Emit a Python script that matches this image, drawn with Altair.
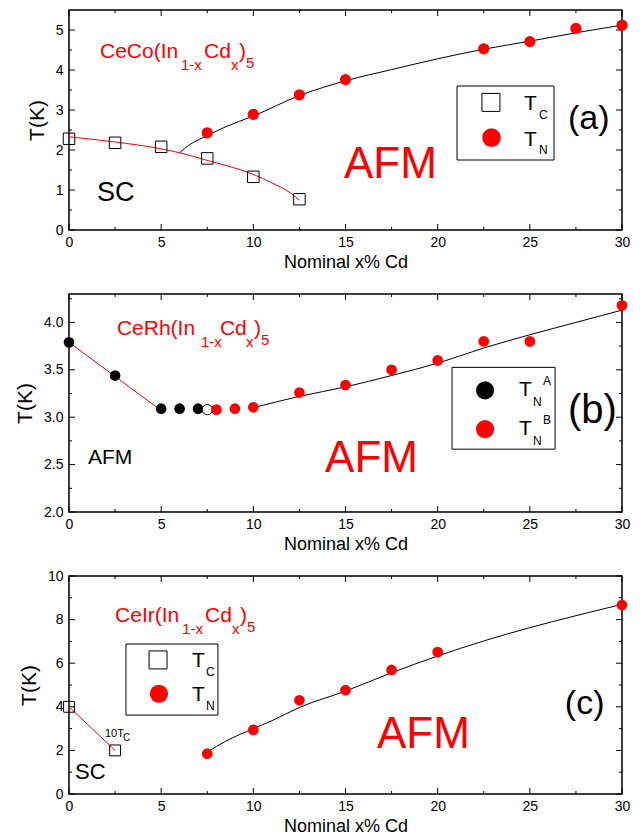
import altair as alt
import pandas as pd

FONT = "Liberation Sans"
RED = "#ff0000"
W = 553
X_MAJOR = [0, 5, 10, 15, 20, 25, 30]
X_MINOR = [2.5, 7.5, 12.5, 17.5, 22.5, 27.5]

# ---------------- panel (a): CeCo(In1-xCdx)5 ----------------
a_tc_x = [0, 2.5, 5, 7.5, 10, 12.5]
a_tc_y = [2.28, 2.18, 2.08, 1.79, 1.33, 0.77]
a_tn_x = [7.5, 10, 12.5, 15, 22.5, 25, 27.5, 30]
a_tn_y = [2.43, 2.89, 3.38, 3.76, 4.53, 4.71, 5.04, 5.12]
a_tcfit_x = [0, 2.5, 5, 6, 7.5, 10, 11, 12, 12.5]
a_tcfit_y = [2.33, 2.20, 2.03, 1.93, 1.74, 1.39, 1.18, 0.93, 0.74]
a_tnfit_x = [6, 6.5, 7, 7.5, 8.5, 10, 12.5, 15, 17.5, 20, 22.5, 25, 27.5, 30]
a_tnfit_y = [1.93, 2.12, 2.25, 2.36, 2.58, 2.85, 3.36, 3.73, 4.01, 4.28, 4.52, 4.72, 4.93, 5.12]
a_y_major = [0, 1, 2, 3, 4, 5]
a_y_minor = [0.5, 1.5, 2.5, 3.5, 4.5]

# ---------------- panel (b): CeRh(In1-xCdx)5 ----------------
b_tna_x = [0, 2.5, 5, 6, 7]
b_tna_y = [3.79, 3.44, 3.09, 3.09, 3.09]
b_open_x = [7.5]
b_open_y = [3.08]
b_tnb_x = [8, 9, 10, 12.5, 15, 17.5, 20, 22.5, 25, 30]
b_tnb_y = [3.08, 3.09, 3.105, 3.26, 3.34, 3.50, 3.60, 3.80, 3.80, 4.18]
b_redfit_x = [0, 4.8]
b_redfit_y = [3.79, 3.10]
b_blackfit_x = [10, 12.5, 15, 17.5, 20, 22.5, 25, 27.5, 30]
b_blackfit_y = [3.10, 3.22, 3.32, 3.44, 3.57, 3.73, 3.87, 4.00, 4.13]
b_y_major = [2.0, 2.5, 3.0, 3.5, 4.0]
b_y_minor = [2.25, 2.75, 3.25, 3.75, 4.25]

# ---------------- panel (c): CeIr(In1-xCdx)5 ----------------
c_tc_x = [0, 2.5]
c_tc_y = [4.0, 2.0]
c_tn_x = [7.5, 10, 12.5, 15, 17.5, 20, 30]
c_tn_y = [1.85, 2.94, 4.30, 4.76, 5.69, 6.51, 8.67]
c_redfit_x = [0, 2.5]
c_redfit_y = [4.0, 2.0]
c_blackfit_x = [7.5, 8.5, 10, 11, 12.5, 15, 17.5, 20, 22.5, 25, 27.5, 30]
c_blackfit_y = [1.93, 2.42, 3.0, 3.36, 3.97, 4.72, 5.56, 6.33, 7.02, 7.63, 8.18, 8.70]
c_y_major = [0, 2, 4, 6, 8, 10]
c_y_minor = [1, 3, 5, 7, 9]


def make_panel(H, ydom, ymaj, ymin, yfmt):
    xs = alt.Scale(domain=[0, 30], nice=False, zero=False)
    ys = alt.Scale(domain=ydom, nice=False, zero=False)
    xax = alt.Axis(values=X_MAJOR, title="Nominal x% Cd", titleFont=FONT, titleFontSize=18,
                   titleFontWeight="normal", titleColor="black", labelFont=FONT, labelFontSize=14,
                   labelColor="black", ticks=False, domain=False, grid=False, labelPadding=5,
                   titlePadding=4, labelFlush=False, labelOverlap=False)
    yax = alt.Axis(values=ymaj, format=yfmt, title="T(K)", titleFont=FONT, titleFontSize=21,
                   titleFontWeight="normal", titleColor="black", labelFont=FONT, labelFontSize=14,
                   labelColor="black", ticks=False, domain=False, grid=False, labelPadding=6,
                   titlePadding=8, labelFlush=False, labelOverlap=False)
    X = alt.X("x:Q", scale=xs, axis=xax)
    Y = alt.Y("y:Q", scale=ys, axis=yax)
    layers = []

    def add(c):
        layers.append(c)

    # inward ticks on all four sides
    for vals, L in [(X_MAJOR, 6), (X_MINOR, 3)]:
        df = pd.DataFrame({"x": vals})
        add(alt.Chart(df).mark_rule(color="black", strokeWidth=1).encode(
            x=X, y=alt.value(H), y2=alt.value(H - L)))
        add(alt.Chart(df).mark_rule(color="black", strokeWidth=1).encode(
            x=X, y=alt.value(0), y2=alt.value(L)))
    for vals, L in [(ymaj, 6), (ymin, 3)]:
        df = pd.DataFrame({"y": vals})
        add(alt.Chart(df).mark_rule(color="black", strokeWidth=1).encode(
            y=Y, x=alt.value(0), x2=alt.value(L)))
        add(alt.Chart(df).mark_rule(color="black", strokeWidth=1).encode(
            y=Y, x=alt.value(W), x2=alt.value(W - L)))

    def line(xv, yv, color):
        add(alt.Chart(pd.DataFrame({"x": xv, "y": yv})).mark_line(
            color=color, strokeWidth=1, interpolate="monotone").encode(x=X, y=Y))

    def squares(xv, yv, size):
        add(alt.Chart(pd.DataFrame({"x": xv, "y": yv})).mark_point(
            shape="square", filled=False, color="black", strokeWidth=1, size=size, opacity=1
        ).encode(x=X, y=Y))

    def circles(xv, yv, color, size, stroke=None):
        kw = dict(shape="circle", filled=True, fill=color, size=size, opacity=1, fillOpacity=1)
        if stroke:
            kw.update(stroke=stroke, strokeWidth=1)
        else:
            kw.update(strokeWidth=0)
        add(alt.Chart(pd.DataFrame({"x": xv, "y": yv})).mark_point(**kw).encode(x=X, y=Y))

    def box(x1, x2, y1, y2):
        add(alt.Chart(pd.DataFrame({"x": [x1], "x2": [x2], "y": [y1], "y2": [y2]})).mark_rect(
            fill="white", stroke="black", strokeWidth=1).encode(x=X, x2="x2:Q", y=Y, y2="y2:Q"))

    def txt(x, y, s, size, color="black", dx=0, dy=0):
        add(alt.Chart(pd.DataFrame({"x": [x], "y": [y], "t": [s]})).mark_text(
            font=FONT, fontSize=size, color=color, align="left", baseline="alphabetic",
            dx=dx, dy=dy).encode(x=X, y=Y, text="t:N"))

    def compound(x, y, head, off):
        txt(x, y, head, 21, RED)
        txt(x, y, "1-x", 15, RED, dx=off[0], dy=12)
        txt(x, y, "Cd", 21, RED, dx=off[1])
        txt(x, y, "x", 15, RED, dx=off[2], dy=12)
        txt(x, y, ")", 21, RED, dx=off[3])
        txt(x, y, "5", 15, RED, dx=off[4], dy=10)

    return layers, line, squares, circles, box, txt, compound


# ---- build (a)
layers, line, squares, circles, box, txt, compound = make_panel(220, [0, 5.5], a_y_major, a_y_minor, "d")
line(a_tcfit_x, a_tcfit_y, RED)
line(a_tnfit_x, a_tnfit_y, "black")
squares(a_tc_x, a_tc_y, 132)
circles(a_tn_x, a_tn_y, RED, 125)
compound(1.68, 4.31, "CeCo(In", [81, 104, 131, 139, 146])
box(21.05, 26.31, 3.6, 1.75)
squares([22.89], [3.19], 324)
circles([22.92], [2.31], RED, 346)
txt(24.68, 3.0, "T", 21)
txt(24.68, 3.0, "C", 12, dx=15, dy=9)
txt(24.68, 2.1, "T", 21)
txt(24.68, 2.1, "N", 12, dx=15, dy=8)
txt(27.07, 2.53, "(a)", 34)
txt(14.92, 1.3, "AFM", 44, RED)
txt(1.52, 0.725, "SC", 27)
pa = alt.layer(*layers).properties(width=W, height=220)

# ---- build (b)
layers, line, squares, circles, box, txt, compound = make_panel(218, [2.0, 4.3], b_y_major, b_y_minor, ".1f")
line(b_redfit_x, b_redfit_y, RED)
line(b_blackfit_x, b_blackfit_y, "black")
circles(b_tna_x, b_tna_y, "black", 115)
circles(b_open_x, b_open_y, "white", 105, stroke="black")
circles(b_tnb_x, b_tnb_y, RED, 115)
compound(2.60, 3.863, "CeRh(In", [84, 103, 129, 137, 144])
box(20.78, 26.37, 3.526, 2.663)
circles([22.57], [3.284], "black", 330)
circles([22.57], [2.874], RED, 330)
txt(24.41, 3.221, "T", 21)
txt(24.41, 3.221, "N", 12, dx=14, dy=10)
txt(24.41, 3.221, "A", 12, dx=24, dy=-11)
txt(24.41, 2.811, "T", 21)
txt(24.41, 2.811, "N", 12, dx=14, dy=10)
txt(24.41, 2.811, "B", 12, dx=24, dy=-11)
txt(27.07, 2.937, "(b)", 40)
txt(13.89, 2.42, "AFM", 44, RED)
txt(1.03, 2.505, "AFM", 21)
pb = alt.layer(*layers).properties(width=W, height=218)

# ---- build (c)
layers, line, squares, circles, box, txt, compound = make_panel(218, [0, 10], c_y_major, c_y_minor, "d")
line(c_redfit_x, c_redfit_y, RED)
line(c_blackfit_x, c_blackfit_y, "black")
squares(c_tc_x, c_tc_y, 118)
circles(c_tn_x, c_tn_y, RED, 115)
compound(2.50, 7.90, "CeIr(In", [67, 90, 117, 125, 132])
box(3.09, 8.08, 6.88, 3.62)
squares([4.83], [6.15], 324)
circles([4.88], [4.60], RED, 330)
txt(6.67, 5.83, "T", 21)
txt(6.67, 5.83, "C", 12, dx=14, dy=9)
txt(6.67, 4.27, "T", 21)
txt(6.67, 4.27, "N", 12, dx=14, dy=9)
txt(1.95, 2.61, "10T", 11)
txt(1.95, 2.61, "C", 10, dx=18, dy=4)
txt(26.9, 3.67, "(c)", 34)
txt(16.71, 2.11, "AFM", 44, RED)
txt(0.33, 0.69, "SC", 22)
pc = alt.layer(*layers).properties(width=W, height=218)

chart = alt.vconcat(pa, pb, pc, spacing=64, bounds="flush").properties(
    padding={"left": 5, "top": 0, "right": 5, "bottom": 0}
).configure_view(stroke="black", strokeWidth=1.5)

chart.save("out.html", embed_options={"renderer": "svg", "actions": False})
